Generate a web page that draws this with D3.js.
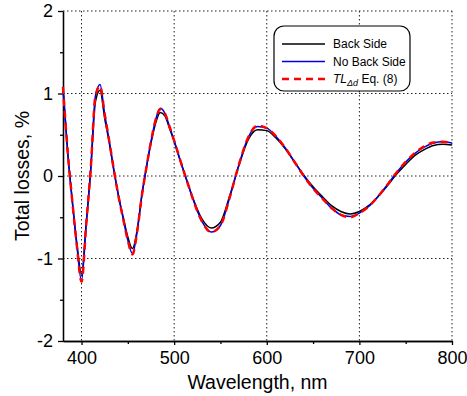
<!DOCTYPE html>
<html>
<head>
<meta charset="utf-8">
<script src="https://cdn.jsdelivr.net/npm/d3@7/dist/d3.min.js"></script>
<style>
  body { margin: 0; background: #fff; }
  svg { display: block; font-family: Arial, "Liberation Sans", sans-serif; }
  .grid line { stroke: #222; stroke-width: 1; stroke-dasharray: 1.5,2.5; }
  .axis path, .axis line { stroke: #000; stroke-width: 1.3; }
  .axis text { font-size: 18px; fill: #000; }
</style>
</head>
<body>
<div id="chart"></div>
<script>
// wavelength, nm
const wavelengths = [
  380, 385, 390, 395, 400, 405, 410, 415, 420, 425, 430, 435, 440, 445, 450,
  455, 460, 465, 470, 475, 480, 485, 490, 495, 500, 505, 510, 515, 520,
  530, 540, 550, 560, 570, 580, 590, 600, 610, 620, 630, 640, 650, 660,
  670, 680, 690, 700, 710, 720, 730, 740, 750, 760, 770, 780, 790, 800
];

const backSide = [
  1.06, 0.30, -0.30, -0.82, -1.19, -0.58, 0.08, 0.90, 1.04, 0.70, 0.40, 0.06, -0.24, -0.50, -0.74,
  -0.88, -0.66, -0.24, 0.10, 0.40, 0.64, 0.77, 0.73, 0.58, 0.42, 0.24, 0.07, -0.10, -0.26,
  -0.52, -0.63, -0.56, -0.24, 0.13, 0.44, 0.56, 0.55, 0.46, 0.33, 0.17, 0.01, -0.13, -0.25,
  -0.36, -0.43, -0.46, -0.43, -0.36, -0.25, -0.12, 0.02, 0.14, 0.25, 0.32, 0.37, 0.385, 0.375
];

const noBackSide = [
  1.08, 0.30, -0.30, -0.85, -1.27, -0.60, 0.10, 0.97, 1.11, 0.75, 0.42, 0.07, -0.25, -0.52, -0.78,
  -0.94, -0.68, -0.25, 0.10, 0.42, 0.68, 0.82, 0.76, 0.60, 0.43, 0.25, 0.07, -0.10, -0.27,
  -0.55, -0.68, -0.60, -0.26, 0.14, 0.47, 0.60, 0.58, 0.48, 0.34, 0.17, 0.00, -0.15, -0.27,
  -0.39, -0.47, -0.49, -0.45, -0.37, -0.25, -0.11, 0.04, 0.17, 0.275, 0.35, 0.40, 0.415, 0.40
];

const tlEq8 = [
  1.08, 0.30, -0.30, -0.85, -1.28, -0.60, 0.10, 0.97, 1.09, 0.75, 0.42, 0.07, -0.25, -0.52, -0.78,
  -0.95, -0.68, -0.25, 0.10, 0.42, 0.68, 0.81, 0.76, 0.60, 0.43, 0.25, 0.07, -0.10, -0.27,
  -0.55, -0.68, -0.60, -0.26, 0.14, 0.47, 0.61, 0.58, 0.48, 0.34, 0.17, 0.00, -0.15, -0.27,
  -0.39, -0.47, -0.50, -0.45, -0.37, -0.25, -0.11, 0.04, 0.17, 0.28, 0.36, 0.405, 0.415, 0.40
];

const xMajor = [400, 500, 600, 700, 800];
const xMinor = [450, 550, 650, 750];
const yMajor = [-2, -1, 0, 1, 2];
const yMinor = [-1.5, -0.5, 0.5, 1.5];

const legendItems = [
  { key: 'back', label: 'Back Side', color: '#000', dash: null, width: 1.5 },
  { key: 'noback', label: 'No Back Side', color: '#0000e0', dash: null, width: 1.5 },
  { key: 'tl', label: 'Eq. (8)', color: '#ff0000', dash: '7,5', width: 2.5 }
];

const W = 467, H = 396;
const margin = { top: 11, right: 15, bottom: 55, left: 63 };
const width = W - margin.left - margin.right;
const height = H - margin.top - margin.bottom;

const svg = d3.select('#chart').append('svg')
  .attr('width', W)
  .attr('height', H);

const g = svg.append('g')
  .attr('transform', `translate(${margin.left},${margin.top})`);

const x = d3.scaleLinear().domain([380, 800]).range([0, width]);
const y = d3.scaleLinear().domain([-2, 2]).range([height, 0]);

// dotted grid
const grid = g.append('g').attr('class', 'grid');
grid.selectAll('.vg').data(xMajor).join('line')
  .attr('class', 'vg')
  .attr('x1', d => x(d)).attr('x2', d => x(d))
  .attr('y1', 0).attr('y2', height);
grid.selectAll('.hg').data(yMajor.filter(d => d > -2)).join('line')
  .attr('class', 'hg')
  .attr('x1', 0).attr('x2', width)
  .attr('y1', d => y(d)).attr('y2', d => y(d));

// axes
g.append('g').attr('class', 'axis')
  .attr('transform', `translate(0,${height})`)
  .call(d3.axisBottom(x).tickValues(xMajor).tickSize(4).tickSizeOuter(0).tickPadding(6));
g.append('g').attr('class', 'axis')
  .attr('transform', `translate(0,${height})`)
  .call(d3.axisBottom(x).tickValues(xMinor).tickSize(3).tickFormat('').tickSizeOuter(0));

g.append('g').attr('class', 'axis')
  .call(d3.axisLeft(y).tickValues(yMajor).tickSize(5).tickSizeOuter(0).tickPadding(5)
    .tickFormat(d => String(d)));
g.append('g').attr('class', 'axis')
  .call(d3.axisLeft(y).tickValues(yMinor).tickSize(3).tickFormat('').tickSizeOuter(0));

// curves
const series = [
  { values: backSide, ...legendItems[0] },
  { values: noBackSide, ...legendItems[1] },
  { values: tlEq8, ...legendItems[2] }
];

const line = d3.line()
  .x((d, i) => x(wavelengths[i]))
  .y(d => y(d))
  .curve(d3.curveMonotoneX);

g.selectAll('.series').data(series).join('path')
  .attr('class', 'series')
  .attr('fill', 'none')
  .attr('stroke', d => d.color)
  .attr('stroke-width', d => d.width)
  .attr('stroke-dasharray', d => d.dash)
  .attr('d', d => line(d.values));

// axis titles
svg.append('text')
  .attr('x', margin.left + width / 2)
  .attr('y', 389)
  .attr('text-anchor', 'middle')
  .style('font-size', '19.5px')
  .text('Wavelength, nm');

svg.append('text')
  .attr('transform', `translate(29,${margin.top + height / 2}) rotate(-90)`)
  .attr('text-anchor', 'middle')
  .style('font-size', '19.5px')
  .text('Total losses, %');

// legend
const lg = svg.append('g').attr('transform', 'translate(274,26)');
lg.append('rect')
  .attr('width', 136).attr('height', 65)
  .attr('rx', 10).attr('ry', 10)
  .attr('fill', '#fff')
  .attr('stroke', '#000')
  .attr('stroke-width', 1.2);

const rows = lg.selectAll('.lrow').data(legendItems).join('g')
  .attr('class', 'lrow')
  .attr('transform', (d, i) => `translate(0,${18 + i * 17.5})`);

rows.append('line')
  .attr('x1', 8).attr('x2', 51)
  .attr('stroke', d => d.color)
  .attr('stroke-width', d => d.width)
  .attr('stroke-dasharray', d => d.dash);

const lt = rows.append('text')
  .attr('x', 59)
  .attr('dy', '0.35em')
  .style('font-size', '12px');

lt.filter(d => d.key !== 'tl').text(d => d.label);
lt.filter(d => d.key === 'tl').each(function(d) {
  const t = d3.select(this);
  t.append('tspan').style('font-style', 'italic').text('TL');
  t.append('tspan').style('font-style', 'italic').style('font-size', '9px')
    .attr('dy', 3).text('\u0394d');
  t.append('tspan').attr('dy', -3).text(' ' + d.label);
});
</script>
</body>
</html>
